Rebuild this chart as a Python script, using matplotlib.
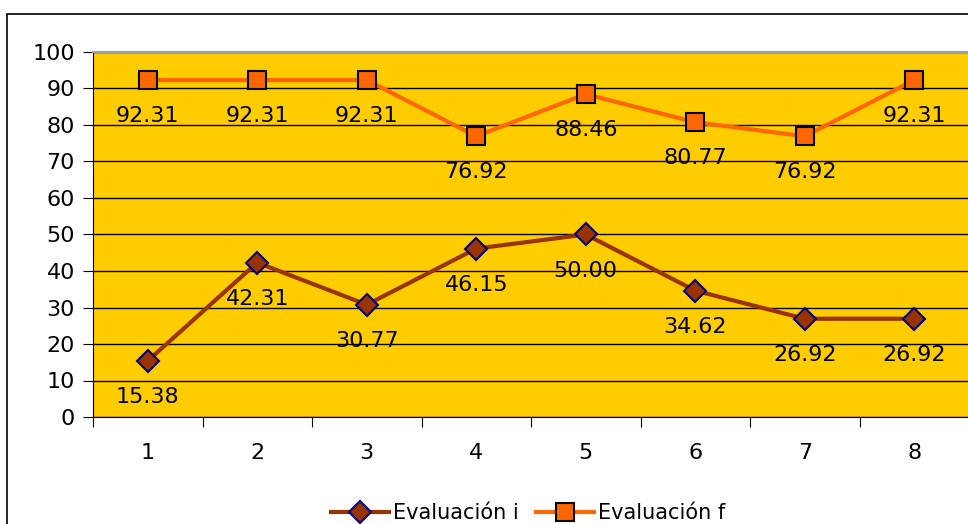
import matplotlib
matplotlib.use("Agg")
import matplotlib.pyplot as plt
from matplotlib.patches import Rectangle

categories = [1, 2, 3, 4, 5, 6, 7, 8]
eval_i = [15.38, 42.31, 30.77, 46.15, 50.00, 34.62, 26.92, 26.92]
eval_f = [92.31, 92.31, 92.31, 76.92, 88.46, 80.77, 76.92, 92.31]
y_ticks = list(range(0, 101, 10))

fig = plt.figure(figsize=(9.68, 5.24), dpi=100)
fig.patch.set_facecolor("white")

# outer chart frame (runs off the right/bottom edge like the source)
fig.patches.append(Rectangle((7 / 968, -0.05), 1.0, (524 - 14) / 524 + 0.05,
                             transform=fig.transFigure, fill=False,
                             edgecolor="black", linewidth=1.2))

ax = fig.add_axes([93 / 968, (524 - 417) / 524, 876 / 968, (417 - 52) / 524])
ax.set_facecolor("#FFCC00")

ax.plot(categories, eval_i, color="#993300", lw=3, marker="D", ms=11,
        mfc="#993300", mec="#000080", mew=1.5, label="Evaluación i", zorder=3)
ax.plot(categories, eval_f, color="#FF6600", lw=3, marker="s", ms=13,
        mfc="#FF6600", mec="black", mew=1.5, label="Evaluación f", zorder=3)

for x, y in zip(categories, eval_i):
    ax.annotate(f"{y:.2f}", (x, y), xytext=(0, -26), textcoords="offset points",
                ha="center", va="center", fontsize=16, zorder=4)
for x, y in zip(categories, eval_f):
    ax.annotate(f"{y:.2f}", (x, y), xytext=(0, -26), textcoords="offset points",
                ha="center", va="center", fontsize=16, zorder=4)

ax.set_xlim(0.5, 8.5)
ax.set_ylim(0, 100)
ax.set_yticks(y_ticks)
ax.yaxis.grid(True, color="black", lw=1)
ax.set_axisbelow(True)

ax.set_xticks([c + 0.5 for c in [0] + categories])
ax.set_xticklabels([])
ax.set_xticks(categories, minor=True)
ax.set_xticklabels([str(c) for c in categories], minor=True)
ax.tick_params(axis="x", which="minor", length=0, pad=19, labelsize=16)
ax.tick_params(axis="x", which="major", length=7, direction="out", color="black")
ax.tick_params(axis="y", length=7, direction="out", labelsize=16, pad=6)

for s in ["top", "right"]:
    ax.spines[s].set_color("#A0A0A0")
    ax.spines[s].set_linewidth(1.5)
ax.spines["left"].set_color("black")
ax.spines["bottom"].set_color("black")

fig.legend(loc="center", bbox_to_anchor=(528 / 968, 1 - 513 / 524), ncol=2,
           frameon=False, fontsize=15, handlelength=2.8, columnspacing=0.8,
           handletextpad=0.2)

fig.savefig("out.png", dpi=100)
